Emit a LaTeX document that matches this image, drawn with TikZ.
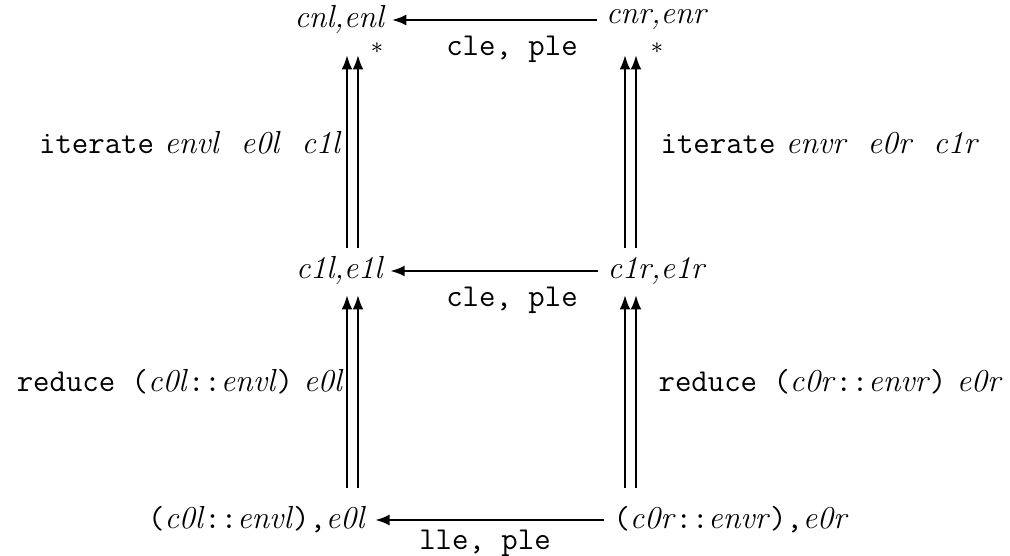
\documentclass[tikz,border=0pt]{standalone}
\usetikzlibrary{arrows.meta}
\begin{document}
\begin{tikzpicture}[x=0.345pt,y=-0.345pt,
  lab/.style={inner sep=0pt, font=\fontsize{11}{13}\selectfont},
  arr/.style={line width=0.85pt, -{Latex[length=5pt,width=3.8pt]}}]
\useasboundingbox (0,0) rectangle (1010,556);
% nodes
\node[lab] (nl) at (340,20) {\textit{cnl,enl}};
\node[lab] (nr) at (657,20) {\textit{cnr,enr}};
\node[lab] (ml) at (340,271) {\textit{c1l,e1l}};
\node[lab] (mr) at (657,271) {\textit{c1r,e1r}};
\node[lab] (bl) at (257,520) {\texttt{(}\textit{c0l}\texttt{::}\textit{envl}\texttt{),}\textit{e0l}};
\node[lab] (br) at (731,520) {\texttt{(}\textit{c0r}\texttt{::}\textit{envr}\texttt{),}\textit{e0r}};
% horizontal arrows
\draw[arr] ([xshift=-3pt]nr.west) -- ([xshift=2pt]nl.east);
\draw[arr] ([xshift=-3pt]mr.west) -- ([xshift=2pt]ml.east);
\draw[arr] ([xshift=-3pt]br.west) -- ([xshift=3pt]bl.east);
\node[lab] (h1) at (512,49) {\texttt{cle, ple}};
\node[lab] (h2) at (512,300) {\texttt{cle, ple}};
\node[lab] (h3) at (485,543) {\texttt{lle, ple}};
% stars
\node[lab, inner sep=0pt] (s1) at (377,48) {$\scriptstyle *$};
\node[lab, inner sep=0pt] (s2) at (657,48) {$\scriptstyle *$};
% vertical double arrows
\coordinate (a1) at (347,248); \coordinate (b1) at (347,55);
\coordinate (a2) at (358,248); \coordinate (b2) at (358,55);
\coordinate (a3) at (625,248); \coordinate (b3) at (625,55);
\coordinate (a4) at (636,248); \coordinate (b4) at (636,55);
\coordinate (c1) at (347,488); \coordinate (d1) at (347,295);
\coordinate (c2) at (358,488); \coordinate (d2) at (358,295);
\coordinate (c3) at (625,488); \coordinate (d3) at (625,295);
\coordinate (c4) at (636,488); \coordinate (d4) at (636,295);
\foreach \i in {1,2,3,4} {
  \draw[arr] (a\i) -- (b\i);
  \draw[arr] (c\i) -- (d\i);
}
% side labels
\node[lab, anchor=east] (il) at (342,143) {\texttt{iterate}\ \textit{envl\ \ e0l\ \ c1l}};
\node[lab, anchor=west] (ir) at (660,143) {\texttt{iterate}\ \textit{envr\ \ e0r\ \ c1r}};
\node[lab, anchor=east] (rl) at (344,382) {\texttt{reduce (}\textit{c0l}\texttt{::}\textit{envl}\texttt{)}\ \textit{e0l}};
\node[lab, anchor=west] (rr) at (658,382) {\texttt{reduce (}\textit{c0r}\texttt{::}\textit{envr}\texttt{)}\ \textit{e0r}};
\end{tikzpicture}
\end{document}
